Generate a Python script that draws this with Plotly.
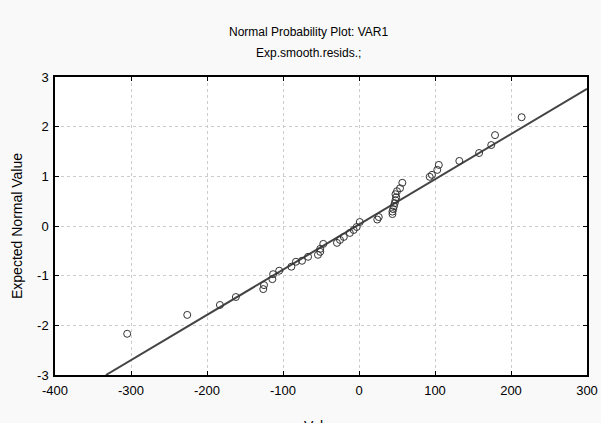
import plotly.graph_objects as go

resid_values = [-305, -226, -183, -162, -126, -125, -114, -113, -105, -89, -83, -75,
                -67, -54, -51, -51, -47, -29, -25, -20, -12, -7, -3,
                1, 24, 26, 44, 44, 45, 46, 47, 48, 49, 48, 50, 54, 57,
                93, 96, 103, 105, 132, 158, 174, 179, 214]
expected_normal = [-2.17, -1.79, -1.59, -1.43, -1.27, -1.19, -1.07, -0.97, -0.90, -0.82, -0.72, -0.70,
                   -0.62, -0.58, -0.52, -0.46, -0.36, -0.34, -0.28, -0.22, -0.14, -0.08, -0.02,
                   0.08, 0.13, 0.18, 0.24, 0.29, 0.34, 0.40, 0.46, 0.52, 0.58, 0.64, 0.70, 0.76, 0.87,
                   0.99, 1.03, 1.13, 1.23, 1.31, 1.47, 1.63, 1.83, 2.19]

# Reference line endpoints
fit_x = [-333, 300]
fit_y = [-3.0, 2.76]

x_ticks = [-400, -300, -200, -100, 0, 100, 200, 300]
y_ticks = [-3, -2, -1, 0, 1, 2, 3]

FONT = "Liberation Sans Narrow, Arial Narrow, Liberation Sans, Arial, sans-serif"

fig = go.Figure()
fig.add_trace(go.Scatter(x=fit_x, y=fit_y, mode="lines",
                         line=dict(color="#444444", width=2), hoverinfo="skip"))
fig.add_trace(go.Scatter(x=resid_values, y=expected_normal, mode="markers",
                         marker=dict(symbol="circle-open", size=7,
                                     color="#333333", line=dict(width=1, color="#333333"))))

axis_common = dict(
    showline=True, linecolor="#000000", linewidth=1.5, mirror="ticks",
    ticks="inside", ticklen=4, tickcolor="#000000", tickwidth=1,
    showgrid=True, gridcolor="#cccccc", griddash="dot", gridwidth=1,
    zeroline=False, tickfont=dict(family=FONT, size=13, color="#000000"),
    automargin=False,
)

fig.update_xaxes(range=[-400, 300], tickvals=x_ticks, ticktext=[str(v) for v in x_ticks],
                 ticklabelstandoff=3, **axis_common)
fig.update_yaxes(range=[-3, 3], tickvals=y_ticks, ticktext=[str(v) for v in y_ticks],
                 ticklabelstandoff=2, **axis_common)

fig.update_layout(
    width=601, height=423,
    margin=dict(l=55, r=14, t=77, b=48),
    paper_bgcolor="#f9f9f9", plot_bgcolor="#ffffff",
    showlegend=False,
    font=dict(family=FONT, color="#000000"),
    annotations=[
        dict(text="Normal Probability Plot: VAR1", xref="paper", yref="paper",
             x=0.4756, y=1.151, xanchor="center", yanchor="middle", showarrow=False,
             font=dict(family=FONT, size=12, color="#000000")),
        dict(text="Exp.smooth.resids.;", xref="paper", yref="paper",
             x=0.4756, y=1.0805, xanchor="center", yanchor="middle", showarrow=False,
             font=dict(family=FONT, size=12, color="#000000")),
        dict(text="Expected Normal Value", xref="paper", yref="paper",
             x=-0.0714, y=0.5, xanchor="center", yanchor="middle", textangle=-90,
             showarrow=False, font=dict(family=FONT, size=14, color="#000000")),
        dict(text="Value", xref="paper", yref="paper",
             x=0.5, y=-0.1376, xanchor="center", yanchor="top",
             showarrow=False, font=dict(family=FONT, size=14, color="#000000")),
    ],
)

fig.write_html(
    "out.html",
    config={"displayModeBar": False},
    post_script=("document.body.style.margin='0';"
                 "document.documentElement.style.overflow='hidden';"
                 "document.body.style.overflow='hidden';"),
)
